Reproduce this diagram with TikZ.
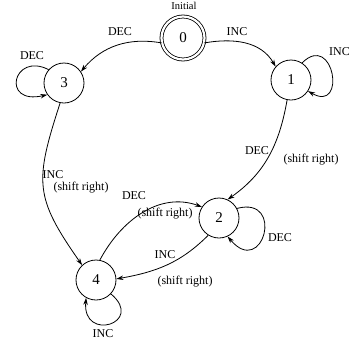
\documentclass[tikz,border=0pt]{standalone}
\usepackage{fontspec}
\setmainfont{Liberation Serif}
\usetikzlibrary{arrows.meta}

\begin{document}
\begin{tikzpicture}[x=1pt,y=1pt,
  state/.style={circle,draw,line width=0.8pt,minimum size=40pt,inner sep=0pt,font=\fontsize{15}{15}\selectfont},
  startstate/.style={state,minimum size=43pt,double,double distance=2.2pt},
  edge/.style={line width=0.8pt,-{Stealth[length=7pt,width=4.5pt]}},
  lbl/.style={font=\fontsize{12}{13}\selectfont,inner sep=0pt}]
\useasboundingbox (0,0) rectangle (349,-346);

% states
\node[startstate] (n0) at (183,-38) {0};
\node[state] (n3) at (64,-83) {3};
\node[state] (n1) at (291,-80) {1};
\node[state] (n2) at (219,-218) {2};
\node[state] (n4) at (96,-280) {4};
\node[lbl,font=\fontsize{10.5}{11}\selectfont] (init) at (184,-6) {Initial};

% transitions between states
\draw[edge] (n0.193) to[out=170,in=50] (n3.34);
\draw[edge] (n0.-13) to[out=10,in=120] (n1.139);
\draw[edge] (n1.-101) to[out=-100,in=35] (n2.65);
\draw[edge] (n3.-101) to[out=-108,in=125,looseness=1.3] (n4.133);
\draw[edge] (n4.79) to[out=62,in=160] (n2.147);
\draw[edge] (n2.238) to[out=225,in=10] (n4.3);

% self loops
\draw[edge] (n3.139) to[out=153,in=193,out distance=40pt,in distance=48pt] (n3.215);
\draw[edge] (n1.57) to[out=45,in=-30,distance=45pt] (n1.-33);
\draw[edge] (n2.28) to[out=15,in=-50,out distance=50pt,in distance=55pt] (n2.-65);
\draw[edge] (n4.-43) to[out=-40,in=265,distance=45pt] (n4.241);

% transition labels
\node[lbl] (l03) at (120,-32) {DEC};
\node[lbl] (l01) at (237,-32) {INC};
\node[lbl] (l12a) at (257,-151) {DEC};
\node[lbl] (l12b) at (311,-160) {(shift right)};
\node[lbl] (l34a) at (53,-175) {INC};
\node[lbl] (l34b) at (81,-188) {(shift right)};
\node[lbl] (l42a) at (134,-196) {DEC};
\node[lbl] (l42b) at (165,-214) {(shift right)};
\node[lbl] (l24a) at (165,-255) {INC};
\node[lbl] (l24b) at (185,-282) {(shift right)};
\node[lbl] (l33) at (32,-56) {DEC};
\node[lbl,anchor=west] (l11) at (329,-52) {INC};
\node[lbl] (l22) at (280,-238) {DEC};
\node[lbl] (l44) at (103,-334) {INC};
\end{tikzpicture}
\end{document}
